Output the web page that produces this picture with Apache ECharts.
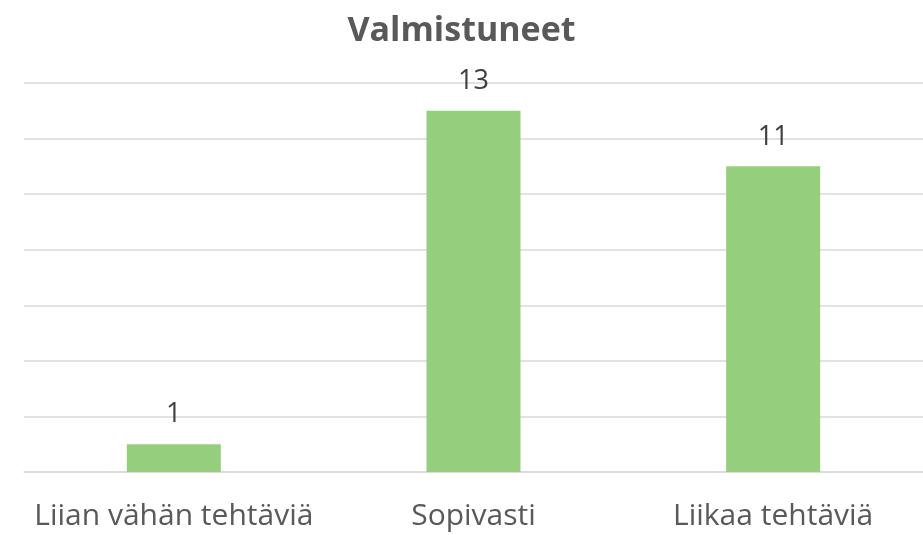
<!DOCTYPE html>
<html>
<head>
<meta charset="utf-8">
<script src="https://cdn.jsdelivr.net/npm/echarts@6/dist/echarts.min.js"></script>
<style>
  html, body { margin: 0; padding: 0; background: #fff; }
  #main { width: 923px; height: 535px; }
</style>
</head>
<body>
<div id="main"></div>
<script>
// data
let categories = ['Liian vähän tehtäviä', 'Sopivasti', 'Liikaa tehtäviä'];
let values = [1, 13, 11];

let myChart = echarts.init(document.getElementById('main'));
let option = {
    backgroundColor: '#ffffff',
    title: {
        text: 'Valmistuneet',
        left: 'center',
        top: 9,
        textStyle: {
            color: '#595959',
            fontFamily: 'Open Sans',
            fontWeight: 'bold',
            fontSize: 34
        }
    },
    grid: {
        left: 24,
        right: 0,
        top: 83,
        bottom: 63
    },
    xAxis: {
        type: 'category',
        data: categories,
        axisTick: { show: false },
        axisLine: { lineStyle: { color: '#d9d9d9', width: 1.5 } },
        axisLabel: {
            interval: 0,
            hideOverlap: false,
            color: '#595959',
            fontFamily: 'Open Sans',
            fontSize: 30,
            margin: 29
        }
    },
    yAxis: {
        type: 'value',
        min: 0,
        max: 14,
        interval: 2,
        axisLabel: { show: false },
        axisLine: { show: false },
        axisTick: { show: false },
        splitLine: { lineStyle: { color: '#d9d9d9', width: 1.5 } }
    },
    series: [{
        type: 'bar',
        data: values,
        barWidth: 94,
        itemStyle: { color: '#95cf7d' },
        label: {
            show: true,
            position: 'top',
            distance: 16,
            color: '#404040',
            fontFamily: 'Open Sans',
            fontSize: 27
        }
    }]
};
myChart.setOption(option);
</script>
</body>
</html>
